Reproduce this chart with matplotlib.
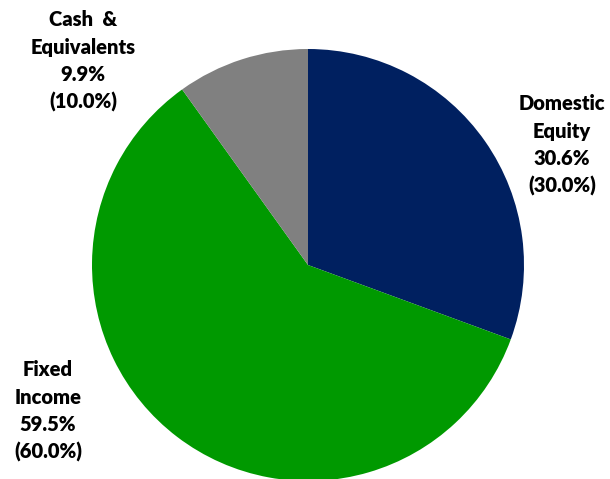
import matplotlib
matplotlib.use("Agg")
import matplotlib.pyplot as plt

# allocation data
labels = ["Domestic\nEquity", "Fixed\nIncome", "Cash  &\nEquivalents"]
actual = [30.6, 59.5, 9.9]
target = [30.0, 60.0, 10.0]
colors = ["#002060", "#009900", "#808080"]

W, H = 610, 479
fig = plt.figure(figsize=(W / 100, H / 100), dpi=100)
ax = fig.add_axes([0, 0, 1, 1])

ax.pie(actual, colors=colors, startangle=90, counterclock=False,
       center=(308, H - 265), radius=216, frame=True)
ax.set_xlim(0, W)
ax.set_ylim(0, H)
ax.set_aspect("equal")
ax.axis("off")

# label positions in pixels (x center, y of first line center)
label_pos = [(562, 102), (48, 368), (83, 18)]
step = 27.5
for lab, a, t, (x, y) in zip(labels, actual, target, label_pos):
    lines = lab.split("\n") + ["{:.1f}%".format(a), "({:.1f}%)".format(t)]
    for i, line in enumerate(lines):
        ax.text(x, H - (y + i * step), line, ha="center", va="center_baseline",
                fontsize=14.5, fontweight="heavy", family="Lato", color="black")

fig.savefig("out.png", dpi=100)
